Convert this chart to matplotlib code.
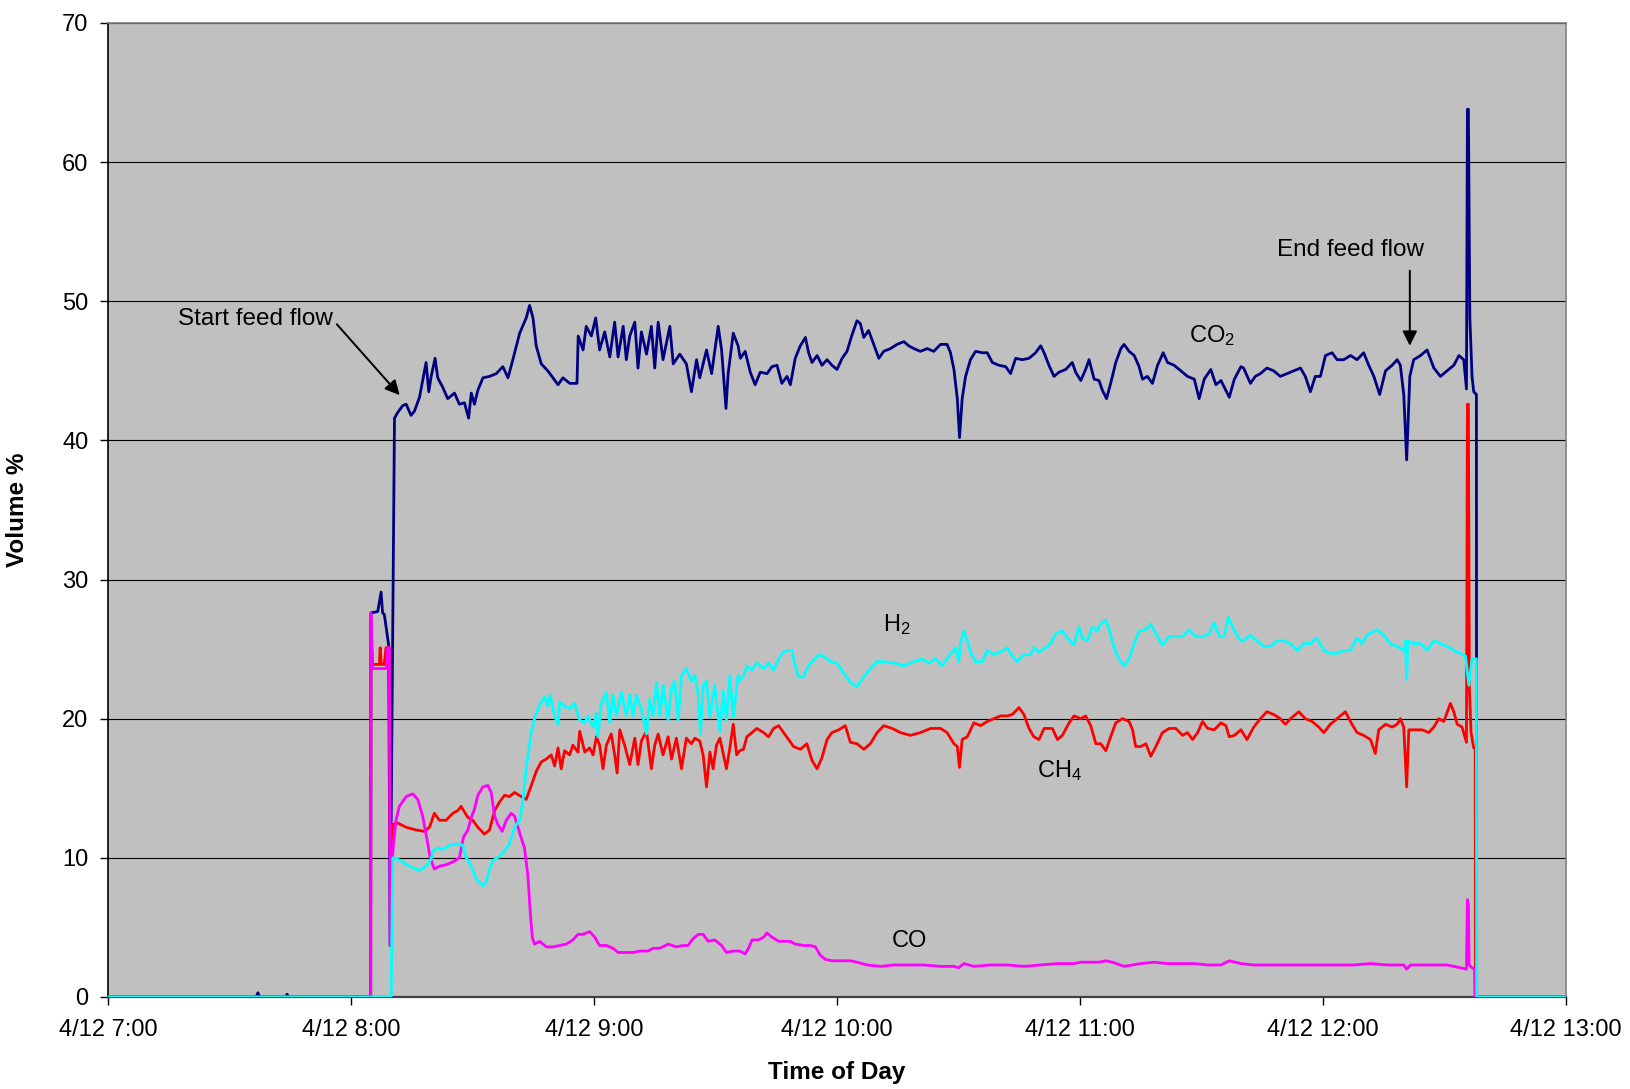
"""Gas composition (volume %) over the feed run on 4/12."""

import matplotlib

matplotlib.use("Agg")
import matplotlib.pyplot as plt
from matplotlib.ticker import FixedLocator, FuncFormatter

# time in decimal hours of the day, values in volume %
co2_time = [
    7.0, 7.610, 7.617, 7.624, 7.732, 7.737, 7.742, 8.081,
    8.082, 8.110, 8.124, 8.130, 8.137, 8.155, 8.161, 8.179, 8.192, 8.213,
    8.227, 8.247, 8.261, 8.282, 8.295, 8.309, 8.320, 8.330, 8.346, 8.357,
    8.378, 8.398, 8.426, 8.446, 8.467, 8.484, 8.495, 8.508, 8.522, 8.543,
    8.570, 8.598, 8.625, 8.646, 8.666, 8.694, 8.721, 8.735, 8.749, 8.762,
    8.783, 8.810, 8.831, 8.852, 8.872, 8.900, 8.930, 8.935, 8.955, 8.968,
    8.989, 9.007, 9.023, 9.044, 9.065, 9.085, 9.099, 9.120, 9.133, 9.147,
    9.168, 9.181, 9.195, 9.216, 9.236, 9.250, 9.264, 9.284, 9.312, 9.326,
    9.353, 9.380, 9.401, 9.422, 9.435, 9.463, 9.484, 9.511, 9.525, 9.543,
    9.552, 9.573, 9.593,
    9.602, 9.622, 9.643, 9.663, 9.684, 9.712, 9.732, 9.753, 9.773, 9.794,
    9.808, 9.828, 9.849, 9.870, 9.883, 9.897, 9.918, 9.938, 9.959, 9.979,
    10.000, 10.021, 10.041, 10.062, 10.082, 10.096, 10.110, 10.130, 10.151,
    10.172, 10.192, 10.220, 10.247, 10.275, 10.295, 10.316, 10.343, 10.371,
    10.398, 10.426, 10.453, 10.467, 10.481, 10.495, 10.504, 10.515, 10.529,
    10.549, 10.570, 10.598, 10.618, 10.639, 10.666, 10.694, 10.714, 10.735,
    10.762, 10.790, 10.817, 10.838, 10.852, 10.872, 10.893, 10.913, 10.941,
    10.968, 10.982, 11.003, 11.023, 11.037, 11.058, 11.078, 11.092, 11.109,
    11.126, 11.147, 11.168, 11.181, 11.202, 11.223, 11.243, 11.257, 11.277,
    11.298, 11.319, 11.342, 11.360, 11.387, 11.415, 11.442, 11.470, 11.490,
    11.511, 11.538, 11.559, 11.580, 11.600, 11.614, 11.635, 11.662,
    11.673, 11.701, 11.721, 11.742, 11.769, 11.797, 11.824, 11.852, 11.879,
    11.907, 11.927, 11.948, 11.968, 11.989, 12.010, 12.037, 12.058, 12.085,
    12.113, 12.140, 12.167, 12.188, 12.209, 12.233, 12.257, 12.284, 12.305,
    12.318, 12.332, 12.344, 12.357, 12.373, 12.401, 12.428, 12.456, 12.483,
    12.510, 12.538, 12.559, 12.579, 12.590, 12.594, 12.598, 12.604, 12.613,
    12.620, 12.631, 12.632, 13.0,
]
co2_pct = [
    0, 0, 0.3, 0, 0, 0.2, 0, 0,
    27.6, 27.7, 29.1, 27.6, 27.5, 25.3, 3.7, 41.6, 42.0, 42.5,
    42.6, 41.8, 42.1, 43.1, 44.3, 45.6, 43.5, 44.6, 45.9, 44.5,
    43.8, 43.0, 43.4, 42.6, 42.7, 41.6, 43.4, 42.6, 43.6, 44.5,
    44.6, 44.8, 45.3, 44.5, 45.8, 47.7, 48.8, 49.7, 48.8, 46.8,
    45.5, 45.0, 44.5, 44.0, 44.5, 44.1, 44.1, 47.5, 46.5, 48.2,
    47.5, 48.8, 46.5, 47.8, 46.0, 48.5, 46.0, 48.2, 45.8, 47.5,
    48.5, 45.2, 47.8, 46.2, 48.2, 45.2, 48.5, 45.8, 48.2, 45.5,
    46.2, 45.5, 43.5, 45.8, 44.5, 46.5, 44.8, 48.2, 46.5, 42.3,
    44.8, 47.7, 46.8,
    45.9, 46.4, 44.9, 44.0, 44.9, 44.8, 45.3, 45.4, 44.1, 44.6,
    44.0, 45.9, 46.8, 47.4, 46.3, 45.6, 46.1, 45.4, 45.8, 45.4,
    45.1, 45.9, 46.4, 47.6, 48.6, 48.4, 47.4, 47.9, 46.9,
    45.9, 46.4, 46.6, 46.9, 47.1, 46.8, 46.6, 46.4, 46.6,
    46.4, 46.9, 46.9, 46.3, 45.1, 43.0, 40.2, 43.0, 44.6,
    45.8, 46.4, 46.3, 46.3, 45.6, 45.4, 45.3, 44.8, 45.9,
    45.8, 45.9, 46.3, 46.8, 46.3, 45.4, 44.6, 44.9, 45.1,
    45.6, 44.9, 44.3, 45.1, 45.8, 44.4, 44.3, 43.6, 43.0,
    44.1, 45.6, 46.6, 46.9, 46.4, 46.1, 45.3, 44.4, 44.6,
    44.1, 45.4, 46.3, 45.6, 45.4, 45.0, 44.6, 44.4, 43.0,
    44.4, 45.1, 44.0, 44.3, 43.6, 43.1, 44.4, 45.3,
    45.2, 44.1, 44.6, 44.8, 45.2, 45.0, 44.6, 44.8, 45.0,
    45.2, 44.6, 43.5, 44.6, 44.6, 46.1, 46.3, 45.8, 45.8,
    46.1, 45.8, 46.3, 45.4, 44.6, 43.3, 45.0, 45.4, 45.8,
    45.4, 43.3, 38.6, 44.6, 45.8, 46.1, 46.5, 45.2, 44.6,
    45.0, 45.4, 46.1, 45.8, 43.7, 63.8, 63.8, 48.8, 44.6,
    43.5, 43.3, 0, 0,
]

h2_time = [
    7.0, 8.165, 8.172, 8.192, 8.213, 8.240, 8.282, 8.309, 8.330, 8.337,
    8.357, 8.378, 8.405, 8.433, 8.460, 8.474, 8.495, 8.515, 8.543, 8.556,
    8.570, 8.584, 8.611, 8.632, 8.652, 8.673, 8.694, 8.707, 8.721, 8.742,
    8.762, 8.783, 8.797, 8.810, 8.820, 8.838, 8.852, 8.859, 8.879, 8.900,
    8.920, 8.941, 8.962, 8.975, 8.996, 9.010, 9.016, 9.030, 9.051, 9.065,
    9.078, 9.092, 9.113, 9.133, 9.147, 9.161, 9.174, 9.195, 9.216, 9.229,
    9.243, 9.257, 9.271, 9.284, 9.305, 9.319, 9.332, 9.346, 9.360, 9.380,
    9.401, 9.415, 9.429, 9.438, 9.449, 9.463, 9.477, 9.497, 9.518, 9.532,
    9.545, 9.559, 9.573, 9.593,
    9.602, 9.616, 9.629, 9.650, 9.670, 9.698, 9.718, 9.739, 9.760, 9.780,
    9.801, 9.815, 9.828, 9.842, 9.863, 9.876, 9.897, 9.925, 9.945, 9.973,
    10.000, 10.027, 10.055, 10.082, 10.110, 10.137, 10.165, 10.192, 10.234,
    10.275, 10.316, 10.350, 10.378, 10.405, 10.433, 10.460, 10.488, 10.501,
    10.508, 10.522, 10.536, 10.549, 10.570, 10.598, 10.618, 10.646, 10.673,
    10.701, 10.721, 10.742, 10.769, 10.797, 10.810, 10.831, 10.858, 10.879,
    10.900, 10.927, 10.948, 10.975, 10.995, 11.009, 11.030, 11.051, 11.071,
    11.085, 11.106, 11.120, 11.140, 11.161, 11.181, 11.202, 11.223, 11.243,
    11.271, 11.291, 11.312, 11.339, 11.367, 11.394, 11.422, 11.449, 11.477,
    11.505, 11.532, 11.553, 11.573, 11.593, 11.610, 11.628, 11.648, 11.662,
    11.673, 11.701, 11.728, 11.756, 11.783, 11.811, 11.838, 11.866, 11.893,
    11.920, 11.948, 11.975, 12.003, 12.030, 12.058, 12.085, 12.113, 12.140,
    12.161, 12.181, 12.222, 12.250, 12.277, 12.305, 12.332, 12.339, 12.344,
    12.349, 12.373, 12.401, 12.428, 12.456, 12.483, 12.510, 12.538, 12.565,
    12.586, 12.600, 12.613, 12.631, 12.632, 13.0,
]
h2_pct = [
    0, 0, 10.0, 9.9, 9.7, 9.4, 9.1, 9.4, 9.9, 10.5,
    10.7, 10.6, 10.9, 11.0, 10.9, 10.0, 9.4, 8.5, 8.0, 8.2,
    9.2, 9.8, 10.1, 10.5, 11.0, 12.2, 12.7, 14.0, 16.4, 19.1,
    20.4, 21.2, 21.6, 20.9, 21.7, 20.2, 19.6, 21.2, 20.9, 20.7,
    21.1, 19.9, 19.7, 20.2, 19.4, 20.4, 18.7, 21.1, 21.9, 19.7,
    21.7, 20.2, 21.9, 20.2, 21.7, 20.2, 21.7, 20.7, 18.9, 21.4,
    20.2, 22.6, 20.2, 22.4, 19.9, 22.2, 22.7, 19.9, 23.1, 23.6,
    22.7, 23.1, 21.7, 18.9, 22.4, 22.7, 20.1, 22.4, 19.1, 22.0,
    19.9, 23.1, 20.1, 23.1,
    22.8, 23.1, 23.8, 23.5, 24.0, 23.6, 24.0, 23.5, 24.3, 24.8,
    24.9, 24.9, 23.8, 23.0, 23.0, 23.6, 24.1, 24.6, 24.5, 24.1,
    24.0, 23.3, 22.6, 22.3, 23.0, 23.6, 24.1, 24.1, 24.0,
    23.8, 24.1, 24.3, 24.0, 24.3, 23.8, 24.5, 25.1, 24.1,
    25.4, 26.3, 25.6, 24.8, 24.1, 24.1, 24.9, 24.6, 24.8,
    25.1, 24.5, 24.1, 24.6, 24.6, 25.1, 24.8, 25.1, 25.4,
    26.1, 26.3, 25.8, 25.3, 26.6, 25.8, 25.6, 26.6, 26.3,
    26.8, 27.1, 26.4, 25.1, 24.3, 23.8, 24.3, 25.4, 26.3,
    26.4, 26.8, 26.1, 25.3, 25.9, 25.9, 25.9, 26.4, 25.9,
    25.9, 26.1, 26.9, 25.9, 25.9, 27.3, 26.6, 25.9, 25.6,
    25.6, 26.0, 25.6, 25.2, 25.2, 25.6, 25.6, 25.4, 24.9,
    25.4, 25.4, 25.8, 24.9, 24.7, 24.7, 24.9, 24.9, 25.8,
    25.4, 26.0, 26.4, 26.0, 25.4, 25.2, 24.9, 25.6, 22.8,
    25.6, 25.4, 25.4, 24.9, 25.6, 25.4, 25.2, 24.9, 24.7,
    24.5, 22.4, 24.3, 24.3, 0, 0,
]

ch4_time = [
    7.0, 8.081, 8.082, 8.089, 8.117, 8.120, 8.125, 8.137, 8.144, 8.158,
    8.161, 8.172, 8.192, 8.227, 8.268, 8.302, 8.323, 8.343, 8.364, 8.391,
    8.419, 8.440, 8.453, 8.481, 8.501, 8.522, 8.549, 8.570, 8.591, 8.611,
    8.632, 8.652, 8.673, 8.701, 8.721, 8.742, 8.762, 8.783, 8.804, 8.824,
    8.838, 8.852, 8.865, 8.879, 8.900, 8.913, 8.934, 8.941, 8.962, 8.982,
    8.996, 9.010, 9.023, 9.037, 9.051, 9.071, 9.085, 9.095, 9.106, 9.126,
    9.147, 9.168, 9.181, 9.195, 9.216, 9.236, 9.250, 9.264, 9.284, 9.305,
    9.319, 9.339, 9.360, 9.380, 9.401, 9.415, 9.435, 9.449, 9.463, 9.477,
    9.490, 9.504, 9.518, 9.545, 9.559, 9.573, 9.587, 9.600,
    9.615, 9.629, 9.650, 9.670, 9.698, 9.718, 9.739, 9.760, 9.780, 9.801,
    9.821, 9.849, 9.876, 9.897, 9.918, 9.938, 9.959, 9.979, 10.007, 10.034,
    10.055, 10.082, 10.110, 10.137, 10.165, 10.192, 10.227, 10.261, 10.302,
    10.343, 10.385, 10.426, 10.453, 10.481, 10.495, 10.504, 10.515, 10.536,
    10.563, 10.591, 10.618, 10.646, 10.673, 10.701, 10.721, 10.749, 10.769,
    10.790, 10.810, 10.831, 10.852, 10.886, 10.907, 10.927, 10.955, 10.975,
    11.003, 11.023, 11.044, 11.065, 11.085, 11.106, 11.126, 11.147, 11.174,
    11.202, 11.216, 11.229, 11.250, 11.271, 11.291, 11.312, 11.339, 11.367,
    11.394, 11.422, 11.442, 11.463, 11.484, 11.504, 11.525, 11.552, 11.580,
    11.600, 11.614, 11.635, 11.662,
    11.687, 11.715, 11.742, 11.769, 11.797, 11.824, 11.845, 11.866, 11.900,
    11.927, 11.955, 11.982, 12.003, 12.030, 12.058, 12.092, 12.119, 12.140,
    12.167, 12.195, 12.215, 12.229, 12.257, 12.284, 12.305, 12.318, 12.332,
    12.344, 12.353, 12.380, 12.408, 12.435, 12.456, 12.476, 12.497, 12.524,
    12.538, 12.552, 12.572, 12.590, 12.594, 12.598, 12.602, 12.609, 12.620,
    12.626, 12.627, 13.0,
]
ch4_pct = [
    0, 0, 26.6, 23.9, 23.9, 25.1, 23.9, 23.9, 25.1, 25.1,
    10.4, 12.4, 12.5, 12.2, 12.0, 11.9, 12.2, 13.2, 12.7, 12.7,
    13.2, 13.4, 13.7, 12.9, 12.7, 12.2, 11.7, 12.0, 13.4, 14.0,
    14.5, 14.4, 14.7, 14.4, 14.2, 15.2, 16.2, 16.9, 17.1, 17.4,
    16.6, 17.9, 16.4, 17.7, 17.4, 18.1, 17.6, 19.1, 17.6, 17.9,
    17.4, 18.7, 18.1, 16.4, 18.1, 18.9, 17.4, 16.1, 19.2, 18.1,
    16.7, 18.6, 16.7, 18.4, 19.1, 16.4, 18.1, 18.9, 17.4, 18.7,
    17.1, 18.6, 16.4, 18.6, 18.2, 18.6, 18.4, 17.4, 15.1, 17.6,
    16.4, 18.1, 18.6, 16.4, 17.9, 19.6, 17.4, 17.7,
    17.8, 18.7, 19.0, 19.3, 19.0, 18.7, 19.3, 19.5, 19.0, 18.5,
    18.0, 17.8, 18.2, 17.0, 16.4, 17.2, 18.5, 19.0, 19.2, 19.5,
    18.3, 18.2, 17.8, 18.2, 19.0, 19.5, 19.3, 19.0, 18.8,
    19.0, 19.3, 19.3, 19.0, 18.2, 18.0, 16.5, 18.5, 18.7,
    19.7, 19.5, 19.8, 20.0, 20.2, 20.2, 20.3, 20.8, 20.3,
    19.3, 18.7, 18.5, 19.3, 19.3, 18.5, 18.8, 19.7, 20.2,
    20.0, 20.2, 19.5, 18.2, 18.2, 17.7, 18.7, 19.7, 20.0,
    19.8, 19.2, 18.0, 18.0, 18.2, 17.3, 18.0, 19.0, 19.3,
    19.3, 18.8, 19.0, 18.5, 19.0, 19.8, 19.3, 19.2, 19.7,
    19.5, 18.7, 18.8, 19.2,
    18.5, 19.4, 20.0, 20.5, 20.3, 20.0, 19.6, 20.0, 20.5,
    20.0, 19.8, 19.4, 19.0, 19.6, 20.0, 20.5, 19.6, 19.0,
    18.8, 18.5, 17.5, 19.2, 19.6, 19.4, 19.6, 20.0, 19.4,
    15.1, 19.2, 19.2, 19.2, 19.0, 19.4, 20.0, 19.8, 21.1,
    20.5, 19.6, 19.4, 18.3, 42.6, 42.6, 22.2, 19.0, 17.9,
    17.9, 0, 0,
]

co_time = [
    7.0, 8.081, 8.082, 8.089, 8.144, 8.151, 8.158, 8.161, 8.172, 8.185,
    8.199, 8.227, 8.254, 8.275, 8.295, 8.312, 8.326, 8.343, 8.364, 8.391,
    8.419, 8.446, 8.463, 8.481, 8.495, 8.508, 8.522, 8.543, 8.563, 8.577,
    8.591, 8.604, 8.622, 8.639, 8.659, 8.673, 8.687, 8.701, 8.714, 8.728,
    8.738, 8.746, 8.755, 8.776, 8.804, 8.831, 8.859, 8.886, 8.913, 8.934,
    8.955, 8.982, 9.003, 9.023, 9.051, 9.078, 9.099, 9.133, 9.161, 9.188,
    9.222, 9.243, 9.271, 9.305, 9.339, 9.367, 9.387, 9.408, 9.429, 9.449,
    9.470, 9.497, 9.525, 9.545, 9.573, 9.600,
    9.622, 9.636, 9.650, 9.677, 9.698, 9.712, 9.732, 9.760, 9.787, 9.808,
    9.828, 9.863, 9.890, 9.911, 9.931, 9.952, 9.979, 10.014, 10.055, 10.082,
    10.124, 10.179, 10.234, 10.288, 10.357, 10.426, 10.481, 10.501, 10.522,
    10.563, 10.632, 10.701, 10.769, 10.838, 10.907, 10.975, 11.003, 11.044,
    11.078, 11.106, 11.133, 11.181, 11.250, 11.305, 11.360, 11.415, 11.470,
    11.525, 11.580, 11.614, 11.662,
    11.715, 11.783, 11.852, 11.920, 11.989, 12.058, 12.126, 12.195, 12.264,
    12.332, 12.344, 12.360, 12.428, 12.510, 12.565, 12.590, 12.594, 12.598,
    12.601, 12.613, 12.623, 12.625, 13.0,
]
co_pct = [
    0, 0, 27.6, 23.6, 23.6, 25.1, 25.1, 3.7, 10.4, 12.7,
    13.7, 14.4, 14.6, 14.2, 13.0, 11.4, 10.0, 9.2, 9.4, 9.5,
    9.7, 10.0, 11.5, 12.0, 12.9, 13.5, 14.5, 15.1, 15.2, 14.7,
    13.0, 12.4, 11.9, 12.7, 13.2, 13.0, 12.2, 11.4, 10.7, 8.7,
    6.0, 4.3, 3.8, 4.0, 3.6, 3.6, 3.7, 3.8, 4.1, 4.5,
    4.5, 4.7, 4.3, 3.7, 3.7, 3.5, 3.2, 3.2, 3.2, 3.3,
    3.3, 3.5, 3.5, 3.8, 3.6, 3.7, 3.7, 4.2, 4.5, 4.5,
    4.0, 4.1, 3.7, 3.2, 3.3, 3.3,
    3.1, 3.5, 4.1, 4.1, 4.3, 4.6, 4.3, 4.0, 4.0, 4.0,
    3.8, 3.7, 3.7, 3.6, 3.0, 2.7, 2.6, 2.6, 2.6, 2.5,
    2.3, 2.2, 2.3, 2.3, 2.3, 2.2, 2.2, 2.1, 2.4,
    2.2, 2.3, 2.3, 2.2, 2.3, 2.4, 2.4, 2.5, 2.5,
    2.5, 2.6, 2.5, 2.2, 2.4, 2.5, 2.4, 2.4, 2.4,
    2.3, 2.3, 2.6, 2.4,
    2.3, 2.3, 2.3, 2.3, 2.3, 2.3, 2.3, 2.4, 2.3,
    2.3, 2.0, 2.3, 2.3, 2.3, 2.1, 2.0, 7.0, 6.6,
    2.3, 2.1, 2.0, 0, 0,
]

hour_ticks = [7, 8, 9, 10, 11, 12, 13]
volume_ticks = [0, 10, 20, 30, 40, 50, 60, 70]

FONT = ["Liberation Sans", "DejaVu Sans"]
NARROW = ["Liberation Sans Narrow", "Liberation Sans", "DejaVu Sans"]


def main() -> None:
    plt.rcParams["font.family"] = FONT
    plt.rcParams["mathtext.fontset"] = "custom"
    plt.rcParams["mathtext.rm"] = "Liberation Sans"
    plt.rcParams["mathtext.it"] = "Liberation Sans"

    fig = plt.figure(figsize=(16.31, 10.89), dpi=100)
    ax = fig.add_axes([0.0662, 0.0845, 0.894, 0.8944])
    ax.set_facecolor("#C0C0C0")

    lw = 2.0
    ax.plot(co2_time, co2_pct, color="#000080", lw=lw, zorder=3)
    ax.plot(ch4_time, ch4_pct, color="#FF0000", lw=lw, zorder=3)
    ax.plot(co_time, co_pct, color="#FF00FF", lw=lw, zorder=3)
    ax.plot(h2_time, h2_pct, color="#00FFFF", lw=lw, zorder=3)

    ax.set_xlim(7, 13)
    ax.set_ylim(0, 70)
    ax.xaxis.set_major_locator(FixedLocator(hour_ticks))
    ax.xaxis.set_major_formatter(FuncFormatter(lambda h, _: f"4/12 {int(round(h))}:00"))
    ax.yaxis.set_major_locator(FixedLocator(volume_ticks))
    ax.grid(axis="y", color="black", lw=0.8, zorder=1)
    ax.tick_params(axis="both", direction="out", length=6, width=1, labelsize=17, color="black")
    ax.tick_params(axis="x", pad=10)
    ax.tick_params(axis="y", pad=8)
    for side in ("top", "right"):
        ax.spines[side].set_color("#808080")
        ax.spines[side].set_linewidth(1.2)
    ax.spines["left"].set_color("black")
    ax.spines["left"].set_linewidth(1.2)
    ax.spines["bottom"].set_color("#404040")
    ax.spines["bottom"].set_linewidth(1.6)

    ax.set_xlabel("Time of Day", fontsize=17.5, fontweight="bold", family=NARROW, labelpad=14)
    ax.set_ylabel("Volume %", fontsize=17.5, fontweight="bold", family=NARROW, labelpad=24)

    arrow = dict(arrowstyle="-|>", color="black", lw=1.4, mutation_scale=22)
    ax.annotate("", xy=(8.208, 43.1), xytext=(7.934, 48.5), arrowprops=arrow, zorder=4)
    ax.text(7.608, 48.7, "Start feed flow", fontsize=17.5, ha="center", va="center")
    ax.annotate("", xy=(12.357, 46.6), xytext=(12.357, 52.4), arrowprops=arrow, zorder=4)
    ax.text(12.113, 53.7, "End feed flow", fontsize=17.5, ha="center", va="center")

    ax.text(11.544, 47.5, "CO$_2$", fontsize=17, ha="center", va="center")
    ax.text(10.246, 26.8, "H$_2$", fontsize=17, ha="center", va="center")
    ax.text(10.914, 16.3, "CH$_4$", fontsize=17, ha="center", va="center")
    ax.text(10.298, 4.0, "CO", fontsize=17, ha="center", va="center")

    fig.savefig("out.png", dpi=100, facecolor="white")
    plt.close(fig)


if __name__ == "__main__":
    main()
